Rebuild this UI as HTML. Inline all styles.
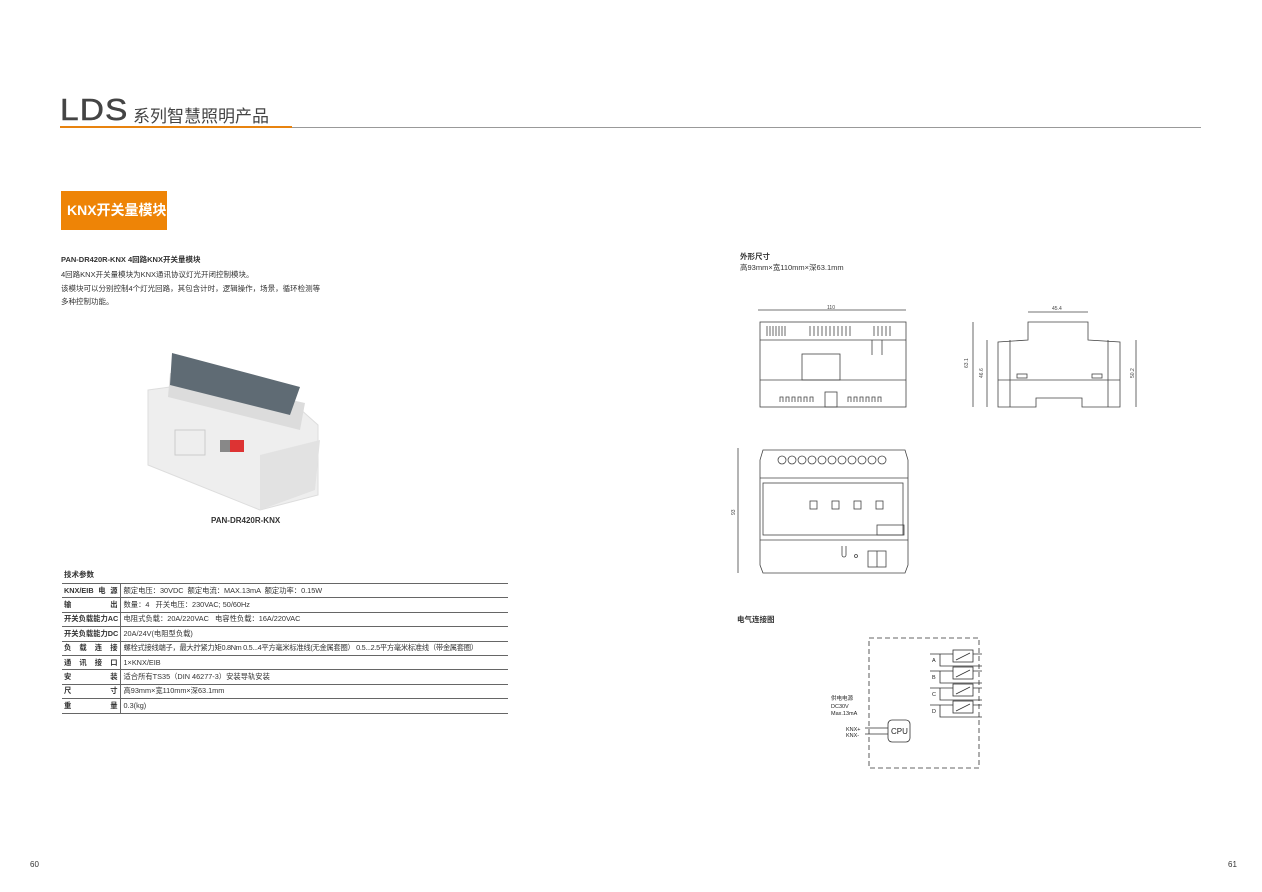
<!DOCTYPE html>
<html><head><meta charset="utf-8"><style>
*{margin:0;padding:0;box-sizing:border-box}
body{width:1262px;height:892px;background:#fff;position:relative;overflow:hidden;font-family:"Liberation Sans","Noto Sans CJK SC",sans-serif;color:#333}
.a{position:absolute;white-space:nowrap}
.s{font-size:7.5px;line-height:10px}
table{border-collapse:collapse;position:absolute;left:62px;top:583px;width:446px;font-size:7.3px;table-layout:fixed}
td{height:14.4px;border-bottom:1px solid #666;padding:0 3px;white-space:nowrap;overflow:hidden}
td:first-child{width:58px;font-weight:bold;border-right:1px solid #666;padding:0 2px;text-align:justify;text-align-last:justify}
tr:first-child td{border-top:1px solid #666}
</style></head><body>
<div class="a" style="left:60px;top:94px;font-size:31px;color:#444;line-height:32px;-webkit-text-stroke:0.5px #444;letter-spacing:1px;transform:scaleX(1.08);transform-origin:left">LDS</div>
<div class="a" style="left:133px;top:102px;font-size:17px;color:#444">系列智慧照明产品</div>
<div class="a" style="left:292px;top:127px;width:909px;height:1px;background:#999"></div>
<div class="a" style="left:60px;top:126px;width:232px;height:2px;background:#e8830f"></div>
<div class="a" style="left:61px;top:191px;width:106px;height:39px;background:#ee8406;color:#fff;font-weight:bold;font-size:14px;line-height:39px;padding-left:6px">KNX开关量模块</div>
<div class="a s" style="left:61px;top:255px;font-weight:bold">PAN-DR420R-KNX 4回路KNX开关量模块</div>
<div class="a s" style="left:61px;top:270px">4回路KNX开关量模块为KNX通讯协议灯光开闭控制模块。</div>
<div class="a s" style="left:61px;top:284px">该模块可以分别控制4个灯光回路，其包含计时，逻辑操作，场景，循环检测等</div>
<div class="a s" style="left:61px;top:297px">多种控制功能。</div>
<svg class="a" style="left:140px;top:345px" width="190" height="170">
<polygon points="8,45 45,40 45,30 150,55 178,80 178,150 120,165 8,120" fill="#eeeeee" stroke="#ddd"/>
<polygon points="180,95 175,145 120,165 120,110" fill="#e2e2e2"/>
<polygon points="30,28 165,58 160,85 28,52" fill="#dcdcdc"/>
<polygon points="32,8 160,42 150,70 30,40" fill="#5f6b74"/>
<rect x="80" y="95" width="10" height="12" fill="#888"/><rect x="90" y="95" width="14" height="12" fill="#d33"/>
<rect x="35" y="85" width="30" height="25" fill="none" stroke="#ccc"/>
</svg>
<div class="a" style="left:211px;top:516px;font-size:8px;font-weight:bold">PAN-DR420R-KNX</div>
<div class="a s" style="left:64px;top:570px;font-weight:bold">技术参数</div>
<table>
<tr><td>KNX/EIB电源</td><td>额定电压：30VDC &nbsp;额定电流：MAX.13mA &nbsp;额定功率：0.15W</td></tr>
<tr><td>输出</td><td>数量：4 &nbsp; 开关电压：230VAC; 50/60Hz</td></tr>
<tr><td>开关负载能力AC</td><td>电阻式负载：20A/220VAC &nbsp; 电容性负载：16A/220VAC</td></tr>
<tr><td>开关负载能力DC</td><td>20A/24V(电阻型负载)</td></tr>
<tr><td>负载连接</td><td style="letter-spacing:-0.3px">螺栓式接线端子，最大拧紧力矩0.8Nm 0.5...4平方毫米标准线(无金属套圈） 0.5...2.5平方毫米标准线（带金属套圈）</td></tr>
<tr><td>通讯接口</td><td>1×KNX/EIB</td></tr>
<tr><td>安装</td><td>适合所有TS35（DIN 46277-3）安装导轨安装</td></tr>
<tr><td>尺寸</td><td>高93mm×宽110mm×深63.1mm</td></tr>
<tr><td>重量</td><td>0.3(kg)</td></tr>
</table>
<div class="a s" style="left:740px;top:252px;font-weight:bold">外形尺寸</div>
<div class="a s" style="left:740px;top:263px">高93mm×宽110mm×深63.1mm</div>
<svg class="a" style="left:730px;top:290px" width="430" height="290" fill="none" stroke="#444" stroke-width="0.8" font-family="Liberation Sans" font-size="5">
<line x1="28" y1="20" x2="176" y2="20"/><text x="97" y="19" stroke="none" fill="#444">110</text>
<rect x="30" y="32" width="146" height="85"/><line x1="30" y1="50" x2="176" y2="50"/><line x1="30" y1="90" x2="176" y2="90"/>
<path d="M37,36v10M40,36v10M43,36v10M46,36v10M49,36v10M52,36v10M55,36v10M80,36v10M84,36v10M88,36v10M92,36v10M96,36v10M100,36v10M104,36v10M108,36v10M112,36v10M116,36v10M120,36v10M144,36v10M148,36v10M152,36v10M156,36v10M160,36v10"/>
<path d="M50,112v-5h3v5M56,112v-5h3v5M62,112v-5h3v5M68,112v-5h3v5M74,112v-5h3v5M80,112v-5h3v5M118,112v-5h3v5M124,112v-5h3v5M130,112v-5h3v5M136,112v-5h3v5M142,112v-5h3v5M148,112v-5h3v5"/>
<rect x="72" y="64" width="38" height="26"/><rect x="95" y="102" width="12" height="15"/>
<line x1="142" y1="50" x2="142" y2="65"/><line x1="152" y1="50" x2="152" y2="65"/>
<line x1="243" y1="32" x2="243" y2="117"/><line x1="257" y1="50" x2="257" y2="117"/><line x1="406" y1="50" x2="406" y2="117"/>
<text x="238" y="78" stroke="none" fill="#444" transform="rotate(-90 238 78)">63.1</text>
<text x="253" y="88" stroke="none" fill="#444" transform="rotate(-90 253 88)">46.6</text>
<text x="404" y="88" stroke="none" fill="#444" transform="rotate(-90 404 88)">50.2</text>
<path d="M268,117 L268,52 L298,50 L298,32 L358,32 L358,50 L390,52 L390,117 L352,117 L352,108 L306,108 L306,117 Z"/>
<line x1="280" y1="50" x2="280" y2="117"/><line x1="378" y1="50" x2="378" y2="117"/>
<line x1="298" y1="22" x2="358" y2="22"/><text x="322" y="20" stroke="none" fill="#444">45.4</text>
<line x1="268" y1="90" x2="390" y2="90"/>
<rect x="287" y="84" width="10" height="4"/><rect x="362" y="84" width="10" height="4"/>
<line x1="8" y1="158" x2="8" y2="283"/><text x="5" y="225" stroke="none" fill="#444" transform="rotate(-90 5 225)">93</text>
<path d="M33,160 L175,160 L178,170 L178,275 L175,283 L33,283 L30,275 L30,170 Z"/>
<line x1="30" y1="188" x2="178" y2="188"/><line x1="30" y1="250" x2="178" y2="250"/>
<rect x="33" y="193" width="140" height="52"/><rect x="147" y="235" width="27" height="10"/>
<g><circle cx="52" cy="170" r="4"/><circle cx="62" cy="170" r="4"/><circle cx="72" cy="170" r="4"/><circle cx="82" cy="170" r="4"/><circle cx="92" cy="170" r="4"/><circle cx="102" cy="170" r="4"/><circle cx="112" cy="170" r="4"/><circle cx="122" cy="170" r="4"/><circle cx="132" cy="170" r="4"/><circle cx="142" cy="170" r="4"/><circle cx="152" cy="170" r="4"/></g>
<rect x="80" y="211" width="7" height="8"/><rect x="102" y="211" width="7" height="8"/><rect x="124" y="211" width="7" height="8"/><rect x="146" y="211" width="7" height="8"/>
<rect x="138" y="261" width="18" height="16"/><line x1="147" y1="261" x2="147" y2="277"/><circle cx="126" cy="266" r="1.5"/><path d="M112,256v9a2,2 0 0 0 4,0v-9"/>
</svg>
<div class="a s" style="left:737px;top:615px;font-weight:bold">电气连接图</div>
<svg class="a" style="left:810px;top:630px" width="180" height="145" fill="none" stroke="#333" stroke-width="0.8" font-family="Liberation Sans" font-size="6">
<rect x="59" y="8" width="110" height="130" stroke-dasharray="5,3"/>
<g><rect x="143" y="20" width="20" height="12"/><path d="M120,24 H143 M163,24 H172 M130,24 V36 H172"/><line x1="146" y1="30" x2="160" y2="23"/>
<rect x="143" y="37" width="20" height="12"/><path d="M120,41 H143 M163,41 H172 M130,41 V53 H172"/><line x1="146" y1="47" x2="160" y2="40"/>
<rect x="143" y="54" width="20" height="12"/><path d="M120,58 H143 M163,58 H172 M130,58 V70 H172"/><line x1="146" y1="64" x2="160" y2="57"/>
<rect x="143" y="71" width="20" height="12"/><path d="M120,75 H143 M163,75 H172 M130,75 V87 H172"/><line x1="146" y1="81" x2="160" y2="74"/></g>
<rect x="78" y="90" width="22" height="22" rx="4"/><path d="M55,98 H78 M55,104 H78"/>
<g stroke="none" fill="#222" font-size="5.5"><text x="122" y="32">A</text><text x="122" y="49">B</text><text x="122" y="66">C</text><text x="122" y="83">D</text>
<text x="81" y="104" font-size="8">CPU</text>
<text x="21" y="70">供电电源</text><text x="21" y="78">DC30V</text><text x="21" y="85">Max.13mA</text>
<text x="36" y="101">KNX+</text><text x="36" y="107">KNX-</text></g>
</svg>
<div class="a" style="left:30px;top:860px;font-size:8px">60</div>
<div class="a" style="left:1228px;top:860px;font-size:8px">61</div>
</body></html>
